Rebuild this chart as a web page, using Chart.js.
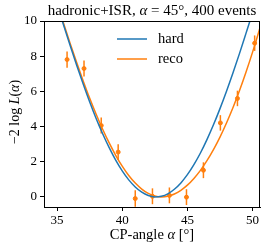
<!DOCTYPE html>
<html>
<head>
<meta charset="utf-8">
<script src="https://cdn.jsdelivr.net/npm/chart.js@4"></script>
<style>
  html, body { margin: 0; padding: 0; background: #fff; }
  #wrap { width: 266px; height: 250px; }
</style>
</head>
<body>
<div id="wrap"><canvas id="likelihoodChart" width="266" height="250"></canvas></div>
<script>
// measured points (reco, with errors)
const pointAngles = [35.77, 37.07, 38.39, 39.69, 41.0, 42.32, 43.62, 44.93, 46.23, 47.53, 48.84, 50.16];
const pointValues = [7.81, 7.30, 4.06, 2.55, -0.09, 0.04, 0.09, -0.01, 1.52, 4.21, 5.60, 8.74];
const pointErrors = [0.46, 0.45, 0.45, 0.45, 0.47, 0.45, 0.45, 0.45, 0.45, 0.44, 0.44, 0.44];

// fitted curves
const curveAngles = [34, 34.5, 35, 35.5, 36, 36.5, 37, 37.5, 38, 38.5, 39, 39.5, 40, 40.5, 41, 41.5, 42, 42.5,
                     43, 43.5, 44, 44.5, 45, 45.5, 46, 46.5, 47, 47.5, 48, 48.5, 49, 49.5, 50, 50.5, 51];
const hardCurve = [13.32, 12.13, 10.95, 9.77, 8.62, 7.50, 6.43, 5.41, 4.46, 3.59, 2.80, 2.09, 1.48, 0.97, 0.57, 0.27, 0.08, 0.00,
                   0.04, 0.18, 0.44, 0.80, 1.27, 1.84, 2.50, 3.26, 4.10, 5.02, 6.01, 7.06, 8.16, 9.31, 10.47, 11.66, 12.9];
const recoCurve = [13.42, 12.22, 11.03, 9.87, 8.74, 7.65, 6.61, 5.62, 4.70, 3.85, 3.07, 2.37, 1.75, 1.22, 0.79, 0.45, 0.20, 0.05,
                   0.00, 0.04, 0.17, 0.38, 0.67, 1.05, 1.51, 2.06, 2.69, 3.40, 4.20, 5.08, 6.05, 7.10, 8.23, 9.45, 10.75];

const xTicks = [35, 40, 45, 50];
const yTicks = [0, 2, 4, 6, 8, 10];

const BLUE = '#1f77b4';
const ORANGE = '#ff7f0e';
const FONT = '"Liberation Serif", "DejaVu Serif", serif';

function toXY(xs, ys) {
    return xs.map((x, i) => ({ x: x, y: ys[i] }));
}

// text with italic pieces, centred on (x, y)
function drawRich(ctx, parts, x, y, size, rotate) {
    ctx.save();
    ctx.translate(x, y);
    if (rotate) ctx.rotate(-Math.PI / 2);
    ctx.textBaseline = 'middle';
    ctx.textAlign = 'left';
    ctx.fillStyle = '#000';
    let total = 0;
    parts.forEach(p => {
        ctx.font = (p[1] ? 'italic ' : '') + size + 'px ' + FONT;
        total += ctx.measureText(p[0]).width;
    });
    let cx = -total / 2;
    parts.forEach(p => {
        ctx.font = (p[1] ? 'italic ' : '') + size + 'px ' + FONT;
        ctx.fillText(p[0], cx, 0);
        cx += ctx.measureText(p[0]).width;
    });
    ctx.restore();
}

// error bars, frame, legend and labels
const extras = {
    id: 'extras',
    beforeDatasetsDraw(chart) {
        const ctx = chart.ctx;
        const xs = chart.scales.x, ys = chart.scales.y;
        const area = chart.chartArea;
        ctx.save();
        ctx.beginPath();
        ctx.rect(area.left, area.top, area.right - area.left, area.bottom - area.top);
        ctx.clip();
        ctx.strokeStyle = ORANGE;
        ctx.lineWidth = 1.5;
        pointAngles.forEach((a, i) => {
            const px = xs.getPixelForValue(a);
            ctx.beginPath();
            ctx.moveTo(px, ys.getPixelForValue(pointValues[i] - pointErrors[i]));
            ctx.lineTo(px, ys.getPixelForValue(pointValues[i] + pointErrors[i]));
            ctx.stroke();
        });
        ctx.restore();
    },
    afterDraw(chart) {
        const ctx = chart.ctx;
        const area = chart.chartArea;

        // box round the plot
        ctx.save();
        ctx.strokeStyle = '#000';
        ctx.lineWidth = 1;
        ctx.strokeRect(Math.round(area.left) + 0.5, Math.round(area.top) + 0.5,
                       Math.round(area.right - area.left) - 1, Math.round(area.bottom - area.top));
        ctx.restore();

        // legend inside the plot
        const lines = chart.data.datasets.filter(d => d.showLine);
        ctx.save();
        ctx.font = '14.5px ' + FONT;
        ctx.textBaseline = 'middle';
        ctx.fillStyle = '#000';
        lines.forEach((d, i) => {
            const y = area.top + 18 + i * 20;
            ctx.strokeStyle = d.borderColor;
            ctx.lineWidth = 1.5;
            ctx.beginPath();
            ctx.moveTo(area.left + 73, y);
            ctx.lineTo(area.left + 103, y);
            ctx.stroke();
            ctx.fillText(d.label, area.left + 114, y);
        });
        ctx.restore();

        const midX = (area.left + area.right) / 2;
        drawRich(ctx, [['hadronic+ISR, ', false], ['α', true], [' = 45°, 400 events', false]], midX, 11.5, 15, false);
        drawRich(ctx, [['CP-angle ', false], ['α', true], [' [°]', false]], midX, 235, 14.5, false);
        drawRich(ctx, [['−2 log ', false], ['L', true], ['(', false], ['α', true], [')', false]], 15, 112, 14, true);
    }
};

const ctx = document.getElementById('likelihoodChart').getContext('2d');
new Chart(ctx, {
    type: 'scatter',
    data: {
        datasets: [
            {
                label: 'hard',
                data: toXY(curveAngles, hardCurve),
                showLine: true,
                borderColor: BLUE,
                borderWidth: 1.5,
                pointRadius: 0,
                cubicInterpolationMode: 'monotone'
            },
            {
                label: 'reco',
                data: toXY(curveAngles, recoCurve),
                showLine: true,
                borderColor: ORANGE,
                borderWidth: 1.5,
                pointRadius: 0,
                cubicInterpolationMode: 'monotone'
            },
            {
                label: 'reco data',
                data: toXY(pointAngles, pointValues),
                showLine: false,
                backgroundColor: ORANGE,
                borderColor: ORANGE,
                pointRadius: 2,
                pointStyle: 'circle'
            }
        ]
    },
    options: {
        responsive: false,
        animation: false,
        devicePixelRatio: 1,
        layout: { padding: { top: 21, right: 6, left: 0, bottom: 0 } },
        plugins: {
            legend: { display: false },
            tooltip: { enabled: false },
            title: { display: false }
        },
        scales: {
            x: {
                type: 'linear',
                min: 34.0,
                max: 50.57,
                afterBuildTicks: scale => { scale.ticks = xTicks.map(v => ({ value: v })); },
                afterFit: scale => { scale.height = 43; },
                grid: { drawOnChartArea: false, drawTicks: true, tickLength: 4, color: '#000' },
                border: { display: true, color: '#000' },
                ticks: { color: '#000', padding: 2, font: { family: FONT, size: 13 }, maxRotation: 0 }
            },
            y: {
                type: 'linear',
                min: -0.57,
                max: 10,
                afterBuildTicks: scale => { scale.ticks = yTicks.map(v => ({ value: v })); },
                afterFit: scale => { scale.width = 44; },
                grid: { drawOnChartArea: false, drawTicks: true, tickLength: 4, color: '#000' },
                border: { display: true, color: '#000' },
                ticks: { color: '#000', padding: 3, font: { family: FONT, size: 13 } }
            }
        }
    },
    plugins: [extras]
});
</script>
</body>
</html>
